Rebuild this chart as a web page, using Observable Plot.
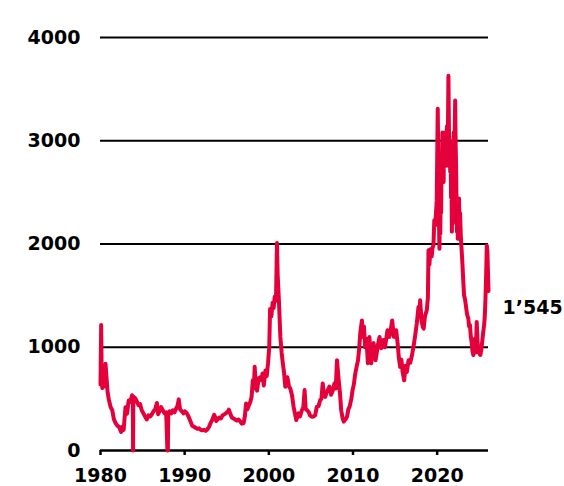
<!DOCTYPE html>
<html>
<head>
<meta charset="utf-8">
<script src="https://cdn.jsdelivr.net/npm/d3@7"></script>
<script src="https://cdn.jsdelivr.net/npm/@observablehq/plot@0.6"></script>
<style>
  html, body { margin: 0; padding: 0; background: #fff; }
  #chart { width: 564px; height: 486px; }
</style>
</head>
<body>
<div id="chart"></div>
<script>
// Price history, [decimal year, value]
const eighties = [
  [1980.0, 640], [1980.08, 1215], [1980.14, 720], [1980.22, 605], [1980.32, 760], [1980.45, 620],
  [1980.6, 840], [1980.72, 700], [1980.85, 560], [1981.0, 490], [1981.2, 420], [1981.4, 390],
  [1981.6, 300], [1981.8, 265], [1982.0, 240], [1982.2, 230], [1982.45, 180], [1982.6, 230],
  [1982.75, 200], [1982.97, 420], [1983.15, 355], [1983.35, 485], [1983.55, 470], [1983.75, 535],
  [1983.84, 500], [1983.87, 0], [1983.9, 520], [1984.1, 510], [1984.3, 480], [1984.5, 440],
  [1984.7, 450], [1984.9, 390], [1985.1, 360], [1985.3, 330], [1985.5, 300], [1985.7, 340],
  [1985.9, 330], [1986.1, 350], [1986.3, 380], [1986.5, 400], [1986.7, 460], [1986.85, 350],
  [1987.0, 380], [1987.2, 420], [1987.4, 390], [1987.6, 360], [1987.8, 370], [1987.95, 0],
  [1988.0, 0], [1988.05, 360], [1988.2, 380], [1988.4, 360], [1988.6, 390], [1988.8, 370],
  [1989.0, 410], [1989.15, 430], [1989.3, 495], [1989.45, 400], [1989.65, 380], [1989.85, 360]
];

const nineties = [
  [1990.0, 380], [1990.15, 370], [1990.3, 355], [1990.5, 320], [1990.7, 280], [1990.9, 240],
  [1991.1, 230], [1991.3, 220], [1991.5, 210], [1991.7, 215], [1991.9, 200], [1992.1, 195],
  [1992.3, 200], [1992.5, 190], [1992.7, 205], [1992.9, 230], [1993.1, 270], [1993.3, 300],
  [1993.5, 345], [1993.6, 330], [1993.75, 285], [1993.9, 300], [1994.1, 320], [1994.3, 310],
  [1994.5, 340], [1994.7, 350], [1994.9, 360], [1995.1, 375], [1995.25, 395], [1995.45, 350],
  [1995.6, 320], [1995.8, 310], [1996.0, 300], [1996.2, 290], [1996.4, 300], [1996.6, 280],
  [1996.8, 260], [1997.0, 265], [1997.15, 330], [1997.3, 455], [1997.45, 400], [1997.6, 430],
  [1997.8, 470], [1997.95, 520], [1998.1, 680], [1998.22, 600], [1998.32, 810], [1998.45, 620],
  [1998.6, 580], [1998.8, 700], [1999.0, 710], [1999.15, 680], [1999.25, 745], [1999.4, 630],
  [1999.6, 775], [1999.75, 720], [1999.9, 840]
];

const noughties = [
  [2000.05, 1000], [2000.15, 1370], [2000.3, 1300], [2000.45, 1430], [2000.57, 1380],
  [2000.7, 1490], [2000.85, 1450], [2000.97, 2010], [2001.05, 1700], [2001.2, 1450],
  [2001.37, 1100], [2001.52, 950], [2001.67, 840], [2001.8, 760], [2001.96, 617], [2002.2, 710],
  [2002.4, 620], [2002.55, 600], [2002.75, 537], [2002.95, 420], [2003.1, 360], [2003.26, 295],
  [2003.4, 330], [2003.53, 360], [2003.7, 330], [2003.93, 390], [2004.1, 420], [2004.25, 585],
  [2004.38, 400], [2004.55, 390], [2004.75, 370], [2004.9, 340], [2005.1, 327], [2005.3, 330],
  [2005.5, 340], [2005.7, 423], [2005.9, 430], [2006.1, 487], [2006.25, 500], [2006.4, 650],
  [2006.55, 537], [2006.7, 520], [2006.85, 560], [2007.0, 585], [2007.2, 620], [2007.4, 540],
  [2007.6, 580], [2007.8, 650], [2007.95, 600], [2008.1, 875], [2008.3, 680], [2008.45, 560],
  [2008.6, 390], [2008.75, 320], [2008.9, 280], [2009.1, 300], [2009.3, 330], [2009.45, 400],
  [2009.6, 425], [2009.8, 500], [2009.95, 585]
];

const tens = [
  [2010.1, 640], [2010.27, 745], [2010.45, 820], [2010.6, 875], [2010.75, 1000], [2010.86, 1135],
  [2011.06, 1260], [2011.18, 1100], [2011.3, 1200], [2011.45, 1000], [2011.6, 1080], [2011.77, 845],
  [2011.95, 1100], [2012.17, 845], [2012.35, 1000], [2012.45, 1040], [2012.55, 950], [2012.68, 875],
  [2012.85, 960], [2012.95, 1020], [2013.16, 1100], [2013.35, 990], [2013.6, 1070], [2013.8, 1000],
  [2014.1, 1165], [2014.3, 1100], [2014.45, 1150], [2014.66, 1260], [2014.85, 1100], [2015.13, 1165],
  [2015.3, 1040], [2015.45, 900], [2015.6, 810], [2015.75, 880], [2015.9, 760], [2016.08, 680],
  [2016.25, 820], [2016.4, 760], [2016.6, 875], [2016.8, 850], [2017.0, 920], [2017.2, 1010],
  [2017.4, 1120], [2017.58, 1230], [2017.78, 1390], [2017.88, 1300], [2017.98, 1455], [2018.15, 1250],
  [2018.3, 1195], [2018.4, 1180], [2018.55, 1300], [2018.77, 1360], [2018.9, 1480], [2018.97, 1940],
  [2019.08, 1800], [2019.2, 1950], [2019.35, 1880], [2019.45, 1960], [2019.56, 1990], [2019.66, 2230],
  [2019.76, 2180], [2019.86, 2300], [2019.95, 2420]
];

const twenties = [
  [2020.07, 3310], [2020.12, 2900], [2020.2, 2300], [2020.27, 1955], [2020.32, 2250],
  [2020.37, 2100], [2020.42, 2450], [2020.47, 2300], [2020.52, 2760], [2020.57, 2600],
  [2020.62, 3080], [2020.67, 2700], [2020.72, 2950], [2020.77, 2600], [2020.82, 2950],
  [2020.87, 2750], [2020.93, 3080], [2020.98, 2800], [2021.04, 3000], [2021.1, 2760],
  [2021.16, 3140], [2021.22, 2900], [2021.28, 3100], [2021.34, 3630], [2021.4, 3100],
  [2021.45, 2760], [2021.5, 3000], [2021.55, 2700], [2021.6, 2900], [2021.65, 2450],
  [2021.7, 2600], [2021.75, 2120], [2021.8, 2400], [2021.86, 2200], [2021.92, 2900],
  [2021.97, 3080], [2022.03, 2750], [2022.09, 3100], [2022.14, 3390], [2022.2, 2950],
  [2022.25, 2760], [2022.3, 2400], [2022.35, 2120], [2022.4, 2350], [2022.45, 2050],
  [2022.5, 2300], [2022.55, 2050], [2022.6, 2440], [2022.66, 2180], [2022.72, 2300],
  [2022.8, 2100], [2022.86, 2000], [2022.92, 1925], [2023.02, 1780], [2023.11, 1630],
  [2023.2, 1500], [2023.3, 1470], [2023.42, 1400], [2023.55, 1320], [2023.7, 1280],
  [2023.8, 1200], [2023.9, 1215], [2024.0, 1100], [2024.1, 1050], [2024.2, 960],
  [2024.3, 925], [2024.4, 1000], [2024.5, 1085], [2024.6, 950], [2024.7, 1245],
  [2024.8, 1050], [2024.9, 955], [2025.0, 1000], [2025.07, 930], [2025.14, 925],
  [2025.25, 980], [2025.35, 1050], [2025.45, 1130], [2025.58, 1215], [2025.66, 1300],
  [2025.74, 1470], [2025.82, 1700], [2025.9, 1985], [2025.97, 1930], [2026.03, 1750],
  [2026.1, 1545]
];

const yTicks = [0, 1000, 2000, 3000, 4000];
const xTicks = [1980, 1990, 2000, 2010, 2020];
const lastLabel = "1’545";

const series = [...eighties, ...nineties, ...noughties, ...tens, ...twenties]
  .map(([year, value]) => ({year, value}));
const last = series[series.length - 1];

const font = "DejaVu Sans, sans-serif";

const chart = Plot.plot({
  width: 564,
  height: 486,
  marginLeft: 100,
  marginRight: 76,
  marginTop: 37,
  marginBottom: 36,
  style: {fontFamily: font, fontSize: "19px", fontWeight: "bold", color: "#000", background: "#fff"},
  x: {domain: [1980, 2026.1], label: null},
  y: {domain: [0, 4000], label: null},
  marks: [
    Plot.gridY(yTicks.filter(d => d > 0), {stroke: "#000", strokeOpacity: 1, strokeWidth: 2}),
    Plot.ruleY([0], {stroke: "#000", strokeWidth: 2.5}),
    Plot.axisX({
      ticks: xTicks, tickSize: 5, tickPadding: 13, strokeWidth: 2.5,
      tickFormat: d => String(d), fontSize: 19, fontWeight: "bold", fontFamily: font
    }),
    Plot.axisY({
      ticks: yTicks, tickSize: 0, tickPadding: 20,
      tickFormat: d => String(d), fontSize: 19, fontWeight: "bold", fontFamily: font
    }),
    Plot.line(series, {
      x: "year", y: "value", stroke: "#e4003b", strokeWidth: 4,
      strokeLinejoin: "round", strokeLinecap: "round"
    }),
    Plot.text([last], {
      x: "year", y: "value", text: () => lastLabel, textAnchor: "start",
      dx: 14, dy: 17, fontSize: 19, fontWeight: "bold", fontFamily: font, fill: "#000"
    })
  ]
});

document.getElementById("chart").appendChild(chart);
</script>
</body>
</html>
